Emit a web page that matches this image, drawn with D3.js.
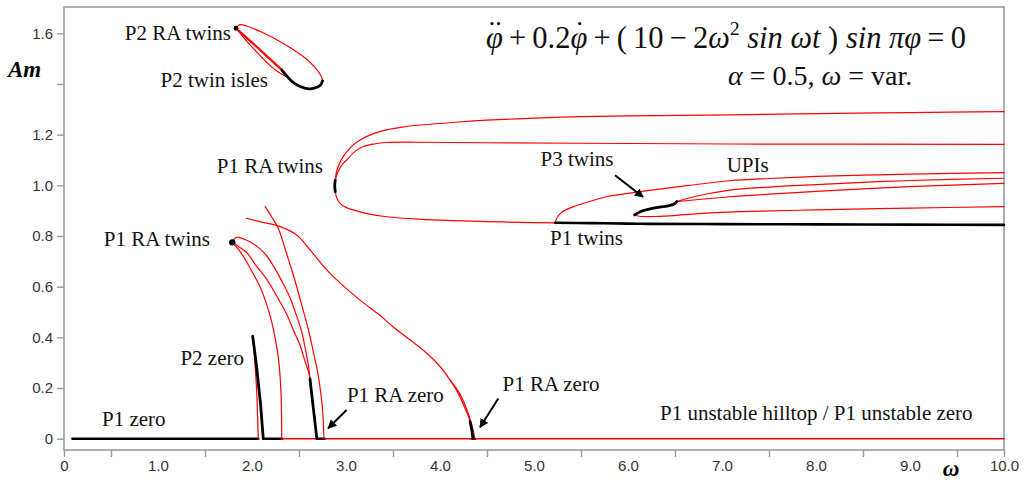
<!DOCTYPE html>
<html><head><meta charset="utf-8">
<script src="https://cdn.jsdelivr.net/npm/d3@7"></script>
<style>body{margin:0;background:#fff}svg{display:block}</style>
</head><body><svg id="c" width="1025" height="481"></svg>
<script>
// ---------- data (omega, Am) ----------
const xTickLabels = ["0","1.0","2.0","3.0","4.0","5.0","6.0","7.0","8.0","9.0","10.0"];
const xTickValues = [0,1,2,3,4,5,6,7,8,9,10];
const xMinorTicks = [0,0.5,1.5,2.5,3.5,4.5,5.5,6.5,7.5,8.5,9.5,10];
const yTickValues = [0,0.2,0.4,0.6,0.8,1.0,1.2,1.4,1.6];
const yTickLabels = ["0","0.2","0.4","0.6","0.8","1.0","1.2","","1.6"];

// P2 island (top left)
const p2Outer  = [[1.83,1.62],[1.87,1.634],[1.95,1.628],[2.1,1.605],[2.33,1.561],[2.5,1.52],[2.62,1.485],[2.7,1.452],[2.74,1.428],[2.75,1.412]];
const p2Black  = [[2.75,1.412],[2.73,1.396],[2.69,1.387],[2.62,1.381],[2.56,1.384],[2.48,1.396],[2.42,1.412],[2.316,1.456]];
const p2InnerA = [[1.83,1.62],[1.95,1.58],[2.085,1.535],[2.2,1.495],[2.316,1.456]];
const p2InnerB = [[1.83,1.62],[1.95,1.566],[2.06,1.522],[2.16,1.484],[2.26,1.452],[2.37,1.428]];

// P1 RA twins (left group)
const raA = [[1.79,0.775],[1.837,0.795],[1.95,0.782],[2.05,0.76],[2.15,0.725],[2.23,0.68],[2.32,0.62],[2.40,0.56],[2.47,0.49],[2.53,0.42],[2.57,0.35],[2.60,0.29],[2.617,0.236]];
const raB = [[1.79,0.775],[1.87,0.755],[1.943,0.735],[2.05,0.68],[2.156,0.63],[2.26,0.565],[2.37,0.49],[2.45,0.42],[2.51,0.37],[2.56,0.31],[2.60,0.265],[2.617,0.236]];
const raC = [[1.79,0.775],[1.85,0.75],[1.907,0.72],[2.0,0.66],[2.085,0.6],[2.156,0.53],[2.21,0.46],[2.25,0.39],[2.28,0.32],[2.30,0.24],[2.31,0.166],[2.315,0.08],[2.316,0]];
const raBlack = [[2.617,0.236],[2.64,0.16],[2.665,0.08],[2.69,0]];
const steep = [[2.14,0.916],[2.21,0.875],[2.28,0.83],[2.36,0.74],[2.44,0.645],[2.52,0.54],[2.60,0.43],[2.66,0.33],[2.70,0.26],[2.735,0.17],[2.755,0.09],[2.765,0]];

// long descending branch to P1 RA zero near 4.35
const longA = [[1.94,0.87],[2.1,0.855],[2.30,0.837],[2.476,0.804],[2.617,0.745],[2.795,0.666],[2.95,0.61],[3.15,0.547],[3.35,0.49],[3.5,0.442],[3.7,0.385],[3.86,0.337],[4.0,0.285],[4.106,0.232],[4.2,0.175],[4.26,0.125],[4.3,0.09],[4.32,0.067]];
const longB = [[4.106,0.232],[4.21,0.178],[4.28,0.12],[4.325,0.07],[4.355,0.03],[4.37,0]];
const longBlack = [[4.32,0.067],[4.34,0.03],[4.35,0]];

// P2 zero
const p2zBlack = [[2.007,0.405],[2.03,0.34],[2.05,0.28],[2.07,0.21],[2.09,0.14],[2.105,0.07],[2.12,0]];
const p2zRed   = [[2.007,0.405],[2.025,0.33],[2.04,0.25],[2.052,0.17],[2.06,0.08],[2.067,0]];

// big loop (P1 RA twins at omega ~2.9)
const noseBlack = [[2.886,0.975],[2.881,0.99],[2.881,1.005],[2.886,1.02]];
const loopOuter = [[2.886,1.02],[2.9,1.055],[2.935,1.09],[2.97,1.113],[3.05,1.15],[3.15,1.179],[3.3,1.205],[3.43,1.219],[3.6,1.23],[3.79,1.238],[4.2,1.25],[4.5,1.257],[5.0,1.265],[5.5,1.271],[6.3,1.275],[7.085,1.278],[8.0,1.283],[9.0,1.287],[10,1.291]];
const loopInner = [[2.886,1.02],[2.91,1.05],[2.955,1.08],[3.007,1.1],[3.1,1.135],[3.186,1.153],[3.3,1.163],[3.43,1.169],[3.787,1.17],[4.5,1.168],[5.49,1.166],[7.085,1.163],[10,1.162]];
const loopLower = [[2.886,0.975],[2.9,0.952],[2.936,0.929],[3.0,0.913],[3.077,0.903],[3.2,0.89],[3.43,0.876],[3.8,0.866],[4.14,0.861],[4.5,0.857],[4.85,0.854],[5.223,0.852]];
const p1Twins   = [[5.223,0.852],[5.6,0.851],[6.0,0.849],[6.23,0.848],[7.0,0.847],[8.0,0.846],[9.0,0.845],[10,0.844]];

// P3 twins and UPIs
const p3Upper = [[5.223,0.852],[5.25,0.875],[5.30,0.895],[5.42,0.916],[5.6,0.937],[5.77,0.955],[6.13,0.975],[6.48,0.992],[7.085,1.018],[7.5,1.027],[8.0,1.035],[8.5,1.04],[9.0,1.044],[10,1.05]];
const p3Lower = [[6.07,0.883],[6.12,0.878],[6.3,0.877],[6.6,0.884],[6.83,0.89],[7.19,0.896],[8.0,0.903],[9.0,0.91],[10,0.916]];
const p3Black = [[6.07,0.883],[6.13,0.896],[6.27,0.91],[6.43,0.919],[6.49,0.926],[6.52,0.936]];
const upiB = [[6.52,0.936],[6.7,0.955],[7.085,0.981],[7.5,0.993],[8.0,1.003],[8.5,1.012],[9.0,1.019],[10,1.028]];
const upiC = [[6.52,0.936],[6.7,0.942],[7.085,0.955],[7.5,0.965],[8.0,0.976],[8.5,0.986],[9.0,0.995],[10,1.008]];

// zero line segments [from, to]
const zeroBlack = [[0.09,2.067],[2.12,2.316],[2.69,2.77],[4.34,4.37]];
const zeroRed   = [[2.316,2.69],[2.77,4.34],[4.37,10]];

// bifurcation dots [omega, Am, radius]
const dots = [[1.83,1.62,2.4],[1.79,0.775,3.2]];

// annotations [text, omega, Am, anchor]
const labels = [
  ["P2 RA twins",1.777,1.574,"end"],
  ["P2 twin isles",2.17,1.389,"end"],
  ["P1 RA twins",2.755,1.049,"end"],
  ["P1 RA twins",1.553,0.761,"end"],
  ["P2 zero",1.915,0.291,"end"],
  ["P1 zero",0.404,0.05,"start"],
  ["P1 RA zero",3.01,0.145,"start"],
  ["P1 RA zero",4.666,0.189,"start"],
  ["P1 unstable hilltop / P1 unstable zero",6.34,0.074,"start"],
  ["P1 twins",5.17,0.764,"start"],
  ["P3 twins",5.07,1.076,"start"],
  ["UPIs",7.05,1.052,"start"]
];
// arrows [fromOmega, fromAm, toOmega, toAm]
const arrows = [[5.862,1.04,6.16,0.954],[3.006,0.113,2.81,0.041],[4.62,0.159,4.426,0.045]];

// equation pieces [text, italic, dots-over, superscript]
const eqPieces = [["φ",1,2,0],["\u2009+\u20090.2",0,0,0],["φ",1,1,0],["\u2009+\u2009(\u200910\u2009−\u20092",0,0,0],["ω",1,0,0],["2",0,0,1],["\u00a0sin\u00a0ωt",1,0,0],["\u00a0)",0,0,0],["\u00a0sin\u00a0πφ",1,0,0],["\u2009=\u20090",0,0,0]];
const eq2Pieces = [["α",1,0,0],["\u00a0=\u00a00.5,\u00a0",0,0,0],["ω",1,0,0],["\u00a0=\u00a0var.",0,0,0]];

// ---------- drawing ----------
const SERIF = "'Liberation Serif','Times New Roman',Times,serif";
const SANS = "'Liberation Sans',Arial,sans-serif";
const svg = d3.select('#c');
const x = d3.scaleLinear().domain([0,10]).range([64,1004]);
const y = d3.scaleLinear().domain([0,1.6]).range([438.7,33.3]);
const axisY = 450, topY = 7;
const gray = '#9a9a9a';

svg.append('rect').attr('x',x(0)).attr('y',topY).attr('width',x(10)-x(0)).attr('height',axisY-topY)
  .attr('fill','none').attr('stroke',gray).attr('stroke-width',1.6);

const ya = svg.append('g').attr('transform',`translate(${x(0)},0)`)
  .call(d3.axisLeft(y).tickValues(yTickValues).tickSize(7).tickPadding(4)
    .tickFormat((d,i)=>yTickLabels[i]));
ya.select('.domain').remove();
ya.selectAll('line').attr('stroke',gray).attr('stroke-width',1.4);
ya.selectAll('text').attr('font-family',SANS).attr('font-size',15).attr('fill','#333');

const xt = svg.append('g').attr('transform',`translate(0,${axisY})`)
  .call(d3.axisBottom(x).tickValues(xMinorTicks).tickSize(7).tickFormat(''));
xt.select('.domain').remove();
xt.selectAll('line').attr('stroke',gray).attr('stroke-width',1.4);
const xl = svg.append('g').attr('transform',`translate(0,${axisY})`)
  .call(d3.axisBottom(x).tickValues(xTickValues).tickSize(0).tickPadding(10)
    .tickFormat((d,i)=>xTickLabels[i]));
xl.select('.domain').remove();
xl.selectAll('text').attr('font-family',SANS).attr('font-size',15).attr('fill','#333');

svg.append('text').attr('x',8).attr('y',77).text('Am')
  .attr('font-family',SERIF).attr('font-size',23).attr('font-weight','bold').attr('font-style','italic');
svg.append('text').attr('x',951).attr('y',476).attr('text-anchor','middle').text('ω')
  .attr('font-family',SERIF).attr('font-size',23).attr('font-weight','bold').attr('font-style','italic');

const line = d3.line().x(d=>x(d[0])).y(d=>y(d[1])).curve(d3.curveCatmullRom.alpha(0.5));
const plot = svg.append('g');
function draw(data, color, w){
  plot.append('path').datum(data).attr('d',line).attr('fill','none')
    .attr('stroke',color).attr('stroke-width',w).attr('stroke-linejoin','round').attr('stroke-linecap','round');
}
const RED='#ff0000', BLK='#000';
zeroRed.forEach(s=>draw([[s[0],0],[s[1],0]],RED,1.4));
zeroBlack.forEach(s=>draw([[s[0],0],[s[1],0]],BLK,2.6));
[p2Outer,p2InnerB,raA,raB,raC,steep,longA,longB,p2zRed,loopOuter,loopInner,loopLower,p3Upper,p3Lower,upiB,upiC]
  .forEach(d=>draw(d,RED,1.2));
draw(p2InnerA,RED,2.2);
[p2Black,raBlack,longBlack,p2zBlack,noseBlack,p3Black].forEach(d=>draw(d,BLK,2.8));
draw(p1Twins,BLK,2.6);
plot.selectAll('circle.dot').data(dots).enter().append('circle').attr('class','dot')
  .attr('cx',d=>x(d[0])).attr('cy',d=>y(d[1])).attr('r',d=>d[2]).attr('fill','#000');

svg.append('g').selectAll('text').data(labels).enter().append('text')
  .attr('x',d=>x(d[1])).attr('y',d=>y(d[2])).attr('text-anchor',d=>d[3]).text(d=>d[0])
  .attr('font-family',SERIF).attr('font-size',21).attr('fill','#111');

svg.append('defs').append('marker').attr('id','ah').attr('viewBox','0 0 10 10').attr('refX',9).attr('refY',5)
  .attr('markerWidth',9).attr('markerHeight',9).attr('markerUnits','userSpaceOnUse').attr('orient','auto')
  .append('path').attr('d','M0,0 L10,5 L0,10 Z').attr('fill','#000');
svg.append('g').selectAll('line').data(arrows).enter().append('line')
  .attr('x1',d=>x(d[0])).attr('y1',d=>y(d[1])).attr('x2',d=>x(d[2])).attr('y2',d=>y(d[3]))
  .attr('stroke','#000').attr('stroke-width',2).attr('marker-end','url(#ah)');

// equation laid out piece by piece
function layout(pieces, x0, base, fs){
  const g = svg.append('g');
  let cx = x0;
  pieces.forEach(p=>{
    const size = p[3] ? fs*0.65 : fs;
    const t = g.append('text').attr('x',cx).attr('y',p[3] ? base-fs*0.42 : base).text(p[0])
      .attr('font-family',SERIF).attr('font-size',size).attr('fill','#111')
      .attr('font-style',p[1]?'italic':'normal');
    const w = t.node().getComputedTextLength();
    if (p[2]) {
      const cxm = cx + w*0.55;
      const offs = p[2]===2 ? [-3.3,3.3] : [0];
      offs.forEach(o=>g.append('circle').attr('cx',cxm+o).attr('cy',base-fs*0.8).attr('r',1.6).attr('fill','#111'));
    }
    cx += w;
  });
  return cx;
}
layout(eqPieces, 486, 48, 30.5);
layout(eq2Pieces, 728, 85, 28);
</script></body></html>
